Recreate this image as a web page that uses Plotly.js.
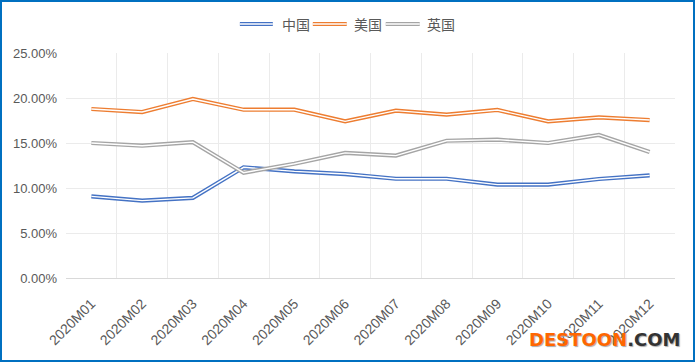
<!DOCTYPE html>
<html>
<head>
<meta charset="utf-8">
<script src="https://cdn.plot.ly/plotly-3.0.1.min.js"></script>
<style>
html,body{margin:0;padding:0;background:#fff;}
#frame{position:absolute;left:0;top:0;width:695px;height:362px;border:2px solid #0070C0;box-sizing:border-box;}
#chart{position:absolute;left:0;top:0;width:691px;height:358px;}
</style>
</head>
<body>
<div id="frame"><div id="chart"></div></div>
<script>
const months = ["2020M01","2020M02","2020M03","2020M04","2020M05","2020M06","2020M07","2020M08","2020M09","2020M10","2020M11","2020M12"];
const china = [9.07, 8.6, 8.9, 12.3, 11.85, 11.55, 11.03, 11.03, 10.37, 10.37, 11.0, 11.4];
const usa   = [18.78, 18.44, 19.89, 18.7, 18.7, 17.4, 18.6, 18.15, 18.67, 17.4, 17.85, 17.55];
const uk    = [15.0, 14.7, 15.1, 11.7, 12.7, 13.9, 13.6, 15.25, 15.37, 15.0, 15.9, 14.0];
const seriesNames = ["中国","美国","英国"];
const seriesColors = ["#4472C4","#ED7D31","#A5A5A5"];
const seriesValues = [china, usa, uk];

const traces = [];
seriesValues.forEach((vals, i) => {
  traces.push({x: months, y: vals, type: 'scatter', mode: 'lines', name: seriesNames[i],
    line: {color: seriesColors[i], width: 4.2}, showlegend: false, hoverinfo: 'skip'});
  traces.push({x: months, y: vals, type: 'scatter', mode: 'lines', name: seriesNames[i] + '_w',
    line: {color: '#FFFFFF', width: 1.4}, showlegend: false, hoverinfo: 'skip'});
});

// manual double-line legend
const legX = [[0.2855, 0.3396, 0.3511], [0.4053, 0.4610, 0.4692], [0.5250, 0.5808, 0.5890]];
const legY = 1.129;
const shapes = [];
const annotations = [];
seriesNames.forEach((n, i) => {
  shapes.push({type: 'line', xref: 'paper', yref: 'paper', x0: legX[i][0], x1: legX[i][1], y0: legY, y1: legY,
    line: {color: seriesColors[i], width: 4.2}});
  shapes.push({type: 'line', xref: 'paper', yref: 'paper', x0: legX[i][0], x1: legX[i][1], y0: legY, y1: legY,
    line: {color: '#FFFFFF', width: 1.4}});
  annotations.push({xref: 'paper', yref: 'paper', x: legX[i][2], y: legY, xanchor: 'left', yanchor: 'middle',
    text: n, showarrow: false, font: {family: 'Noto Sans CJK SC', size: 14, color: '#595959'}});
});
annotations.push({xref: 'paper', yref: 'paper', x: 1.012, y: -0.273, xanchor: 'right', yanchor: 'middle',
  text: 'DESTOON<span style="color:#333333">.COM</span>', showarrow: false,
  font: {family: 'DejaVu Sans', size: 18, color: '#FF6600', weight: 'bold', shadow: '1px 1px 1px #AAAAAA'}});

const layout = {
  width: 691, height: 358,
  margin: {l: 64, r: 17.5, t: 51, b: 82},
  paper_bgcolor: '#FFFFFF', plot_bgcolor: '#FFFFFF',
  showlegend: false,
  font: {family: 'Liberation Sans', size: 13, color: '#595959'},
  xaxis: {type: 'category', tickson: 'boundaries', showgrid: true, gridcolor: '#EBEBEB', gridwidth: 1,
    showline: true, linecolor: '#D9D9D9', linewidth: 1, ticks: '', tickangle: -45,
    ticklabelstandoff: 11, range: [-0.5, 11.5], fixedrange: true,
    tickfont: {family: 'Liberation Sans', size: 14, color: '#595959'}},
  yaxis: {range: [0, 25], dtick: 5, tick0: 0, tickformat: '.2f', ticksuffix: '%',
    showgrid: true, gridcolor: '#EBEBEB', gridwidth: 1, zeroline: false, showline: false, ticks: '',
    ticklabelstandoff: 8, fixedrange: true,
    tickfont: {family: 'Liberation Sans', size: 13, color: '#595959'}},
  shapes: shapes,
  annotations: annotations
};
Plotly.newPlot('chart', traces, layout, {displayModeBar: false, staticPlot: true});
</script>
</body>
</html>
